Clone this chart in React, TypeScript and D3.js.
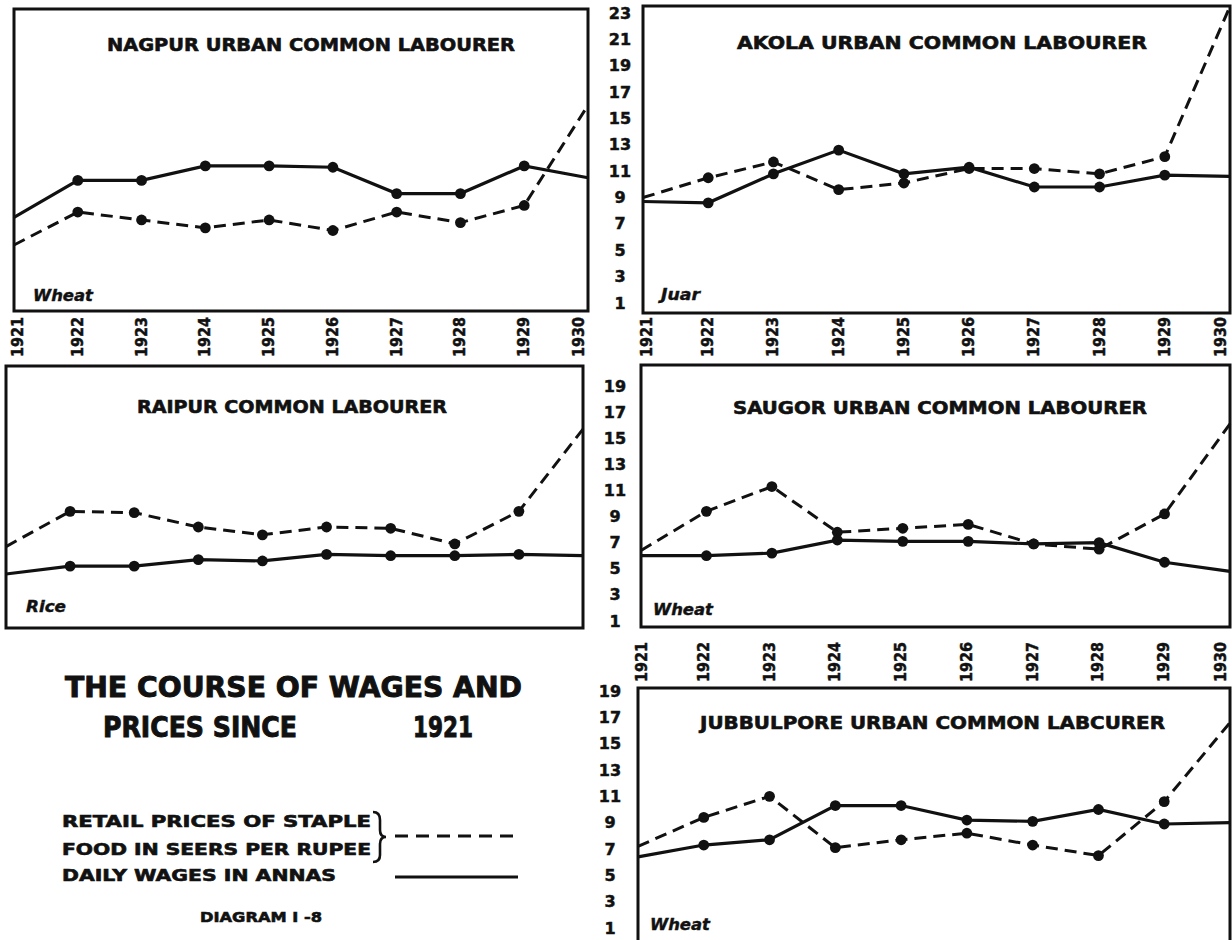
import React from "react";
import * as d3 from "d3";

const years = [1921, 1922, 1923, 1924, 1925, 1926, 1927, 1928, 1929, 1930];
const topTicks = [23, 21, 19, 17, 15, 13, 11, 9, 7, 5, 3, 1];
const lowerTicks = [19, 17, 15, 13, 11, 9, 7, 5, 3, 1];

const nagpurWages = [7.5, 10.3, 10.3, 11.4, 11.4, 11.3, 9.3, 9.3, 11.4, 10.5];
const nagpurPrices = [5.4, 7.9, 7.3, 6.7, 7.3, 6.5, 7.9, 7.1, 8.4, 16.0];

const akolaWages = [8.7, 8.6, 10.8, 12.6, 10.8, 11.3, 9.8, 9.8, 10.7, 10.6];
const akolaPrices = [9.0, 10.5, 11.7, 9.6, 10.1, 11.2, 11.2, 10.8, 12.1, 23.5];

const raipurWages = [4.6, 5.2, 5.2, 5.7, 5.6, 6.1, 6.0, 6.0, 6.1, 6.0];
const raipurPrices = [6.7, 9.4, 9.3, 8.2, 7.6, 8.2, 8.1, 6.9, 9.4, 15.7];

const saugorWages = [6.0, 6.0, 6.2, 7.2, 7.1, 7.1, 6.9, 7.0, 5.5, 4.8];
const saugorPrices = [6.4, 9.4, 11.3, 7.8, 8.1, 8.4, 6.9, 6.5, 9.2, 16.1];

const jubbulporeWages = [6.4, 7.3, 7.7, 10.3, 10.3, 9.2, 9.1, 10.0, 8.9, 9.0];
const jubbulporePrices = [7.2, 9.4, 11.0, 7.1, 7.7, 8.2, 7.3, 6.5, 10.6, 16.6];

const INK = "#111";
const FONT = "'DejaVu Sans', 'Liberation Sans', sans-serif";

const topY = d3.scaleLinear().domain([1, 23]).range([303, 13]);
const midY = d3.scaleLinear().domain([1, 19]).range([621, 386]);
const botY = d3.scaleLinear().domain([1, 19]).range([928, 691]);

const panels = [
  {
    title: "NAGPUR URBAN COMMON LABOURER", tx: 107, tw: 408, ty: 45,
    crop: "Wheat", cx: 33, cy: 296, cw: 60,
    wages: nagpurWages, prices: nagpurPrices,
    x: d3.scaleLinear().domain([1921, 1930]).range([14, 588]),
    top: 9, bottom: 311, y: topY,
  },
  {
    title: "AKOLA URBAN COMMON LABOURER", tx: 737, tw: 410, ty: 43,
    crop: "Juar", cx: 661, cy: 295, cw: 39,
    wages: akolaWages, prices: akolaPrices,
    x: d3.scaleLinear().domain([1921, 1930]).range([643, 1230]),
    top: 6, bottom: 313, y: topY,
  },
  {
    title: "RAIPUR COMMON LABOURER", tx: 137, tw: 310, ty: 407,
    crop: "Rice", cx: 26, cy: 607, cw: 40,
    wages: raipurWages, prices: raipurPrices,
    x: d3.scaleLinear().domain([1921, 1930]).range([6, 583]),
    top: 366, bottom: 628, y: midY,
  },
  {
    title: "SAUGOR URBAN COMMON LABOURER", tx: 733, tw: 414, ty: 408,
    crop: "Wheat", cx: 653, cy: 610, cw: 60,
    wages: saugorWages, prices: saugorPrices,
    x: d3.scaleLinear().domain([1921, 1930]).range([641, 1230]),
    top: 365, bottom: 627, y: midY,
  },
  {
    title: "JUBBULPORE URBAN COMMON LABCURER", tx: 700, tw: 465, ty: 723,
    crop: "Wheat", cx: 650, cy: 925, cw: 60,
    wages: jubbulporeWages, prices: jubbulporePrices,
    x: d3.scaleLinear().domain([1921, 1930]).range([638, 1230]),
    top: 688, bottom: 945, y: botY,
  },
];

function Panel({ p }: { p: any }) {
  const line = d3
    .line<number>()
    .x((_, i) => p.x(years[i]))
    .y((v) => p.y(v));
  return (
    <g>
      <rect
        x={p.x.range()[0]}
        y={p.top}
        width={p.x.range()[1] - p.x.range()[0]}
        height={p.bottom - p.top}
        fill="none"
        stroke={INK}
        strokeWidth={3}
      />
      <text
        x={p.tx}
        y={p.ty}
        textLength={p.tw}
        lengthAdjust="spacingAndGlyphs"
        dominantBaseline="central"
        fontFamily={FONT}
        fontWeight="bold"
        fontSize={17}
        fill={INK}
        stroke={INK}
        strokeWidth={0.6}
      >
        {p.title}
      </text>
      <text
        x={p.cx}
        y={p.cy}
        textLength={p.cw}
        lengthAdjust="spacingAndGlyphs"
        dominantBaseline="central"
        fontFamily={FONT}
        fontWeight="bold"
        fontStyle="italic"
        fontSize={15}
        fill={INK}
        stroke={INK}
        strokeWidth={0.4}
      >
        {p.crop}
      </text>
      <path d={line(p.prices) || ""} fill="none" stroke={INK} strokeWidth={3} strokeDasharray="12 7" />
      <path d={line(p.wages) || ""} fill="none" stroke={INK} strokeWidth={3.2} />
      {years.slice(1, 9).map((yr, j) => (
        <g key={yr}>
          <circle cx={p.x(yr)} cy={p.y(p.prices[j + 1])} r={5.4} fill={INK} />
          <circle cx={p.x(yr)} cy={p.y(p.wages[j + 1])} r={5.4} fill={INK} />
        </g>
      ))}
    </g>
  );
}

function YearLabels({ x, cy }: { x: any; cy: number }) {
  return (
    <g>
      {years.map((yr) => (
        <text
          key={yr}
          transform={`translate(${x(yr) + (yr === 1930 ? -9 : yr === 1921 ? 4 : 0)},${cy}) rotate(-90)`}
          textAnchor="middle"
          dominantBaseline="central"
          textLength={40}
          lengthAdjust="spacingAndGlyphs"
          fontFamily={FONT}
          fontWeight="bold"
          fontSize={15}
          fill={INK}
          stroke={INK}
          strokeWidth={0.5}
        >
          {yr}
        </text>
      ))}
    </g>
  );
}

function YTicks({ ticks, y, cx }: { ticks: number[]; y: any; cx: number }) {
  return (
    <g>
      {ticks.map((t) => (
        <text
          key={t}
          x={cx}
          y={y(t)}
          textAnchor="middle"
          dominantBaseline="central"
          fontFamily={FONT}
          fontWeight="bold"
          fontSize={16}
          fill={INK}
          stroke={INK}
          strokeWidth={0.5}
        >
          {t}
        </text>
      ))}
    </g>
  );
}

export default function App() {
  const txt = (s: string, x: number, y: number, w: number, fs: number, sw = 0.6) => (
    <text
      x={x}
      y={y}
      textLength={w}
      lengthAdjust="spacingAndGlyphs"
      dominantBaseline="central"
      fontFamily={FONT}
      fontWeight="bold"
      fontSize={fs}
      fill={INK}
      stroke={INK}
      strokeWidth={sw}
    >
      {s}
    </text>
  );
  return (
    <svg
      width={1232}
      height={940}
      viewBox="0 0 1232 940"
      style={{ position: "absolute", left: 0, top: 0, background: "#fff" }}
    >
      <rect x={0} y={0} width={1232} height={940} fill="#fff" />
      {panels.map((p, i) => (
        <Panel key={i} p={p} />
      ))}
      <YTicks ticks={topTicks} y={topY} cx={620} />
      <YTicks ticks={lowerTicks} y={midY} cx={615} />
      <YTicks ticks={lowerTicks} y={botY} cx={610} />
      <YearLabels x={panels[0].x} cy={337} />
      <YearLabels x={panels[1].x} cy={337} />
      <YearLabels x={panels[4].x} cy={662} />

      {txt("THE COURSE OF WAGES AND", 65, 687, 457, 29, 1)}
      {txt("PRICES SINCE", 103, 727, 194, 29, 1)}
      {txt("1921", 413, 727, 60, 29, 1)}

      {txt("RETAIL PRICES OF STAPLE", 62, 822, 309, 15)}
      {txt("FOOD IN SEERS PER RUPEE", 62, 850, 309, 15)}
      {txt("DAILY WAGES IN ANNAS", 62, 876, 274, 15)}
      {txt("DIAGRAM I -8", 200, 917, 122, 14)}
      <path
        d="M373,812 Q380,812 380,820 L380,830 Q380,837 386,837 Q380,837 380,844 L380,855 Q380,862 373,862"
        fill="none"
        stroke={INK}
        strokeWidth={2.6}
      />
      <line x1={395} x2={517} y1={836} y2={836} stroke={INK} strokeWidth={3} strokeDasharray="13 8" />
      <line x1={395} x2={518} y1={877} y2={877} stroke={INK} strokeWidth={3.2} />
    </svg>
  );
}
